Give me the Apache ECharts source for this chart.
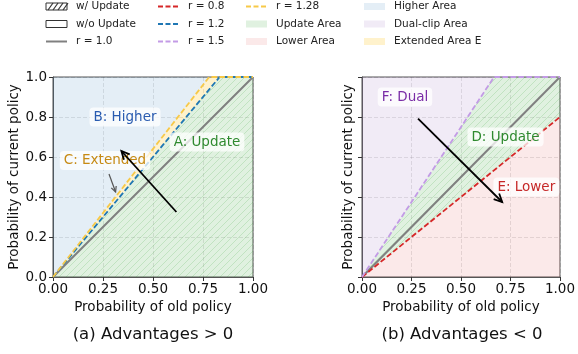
<!doctype html>
<html lang="en">
	<head>
		<meta charset="UTF-8">
		<title>clip regions</title>
		<script src="https://cdn.jsdelivr.net/npm/echarts@6/dist/echarts.min.js"></script>
		<style>
			html, body { margin: 0; padding: 0; background: #fff; }
		</style>
	</head>
	<body>
		<div id="main" style="width: 578px; height: 354px;"></div>
		<script>
			// ratio lines, clipped to the unit square
			const lineR08 = [[0, 0], [1, 0.8]]
			const lineR10 = [[0, 0], [1, 1]]
			const lineR12 = [[0, 0], [0.833, 1], [1, 1]]
			const lineR128 = [[0, 0], [0.781, 1], [1, 1]]
			const lineR15 = [[0, 0], [0.667, 1], [1, 1]]

			// regions, (a) advantages > 0
			const areaUpdateA = [[0, 0], [1, 0], [1, 1], [0.833, 1]]
			const areaExtended = [[0, 0], [0.833, 1], [0.781, 1]]
			const areaHigher = [[0, 0], [0.781, 1], [0, 1]]
			// regions, (b) advantages < 0
			const areaLower = [[0, 0], [1, 0], [1, 0.8]]
			const areaUpdateD = [[0, 0], [1, 0.8], [1, 1], [0.667, 1]]
			const areaDual = [[0, 0], [0.667, 1], [0, 1]]

			// arrows [x0, y0, x1, y1]
			const arrowsA = [[0.617, 0.325, 0.342, 0.63]]
			const smallArrowsA = [[0.28, 0.515, 0.313, 0.425]]
			const arrowsB = [[0.283, 0.792, 0.708, 0.375]]

			// text labels
			const labelsA = [
				{ name: 'B: Higher', value: [0.36, 0.8], color: '#2a5cb0' },
				{ name: 'C: Extended', value: [0.26, 0.583], color: '#c68a14' },
				{ name: 'A: Update', value: [0.77, 0.675], color: '#2f8a2f' }
			]
			const labelsB = [
				{ name: 'F: Dual', value: [0.217, 0.9], color: '#7a2ca6' },
				{ name: 'D: Update', value: [0.725, 0.7], color: '#2f8a2f' },
				{ name: 'E: Lower', value: [0.83, 0.45], color: '#c62828' }
			]

			const xTicks = [0, 0.25, 0.5, 0.75, 1]
			const yTicks = [0, 0.2, 0.4, 0.6, 0.8, 1]

			const FONT = 'DejaVu Sans'
			const C = {
				green: 'rgba(44,160,44,0.15)',
				blue: 'rgba(31,119,180,0.12)',
				red: 'rgba(214,39,40,0.10)',
				purple: 'rgba(148,103,189,0.13)',
				yellow: 'rgba(255,191,0,0.20)'
			}

			// hatch tile "///"
			function hatchCanvas() {
				let cv = document.createElement('canvas')
				cv.width = 7
				cv.height = 7
				let ctx = cv.getContext('2d')
				ctx.strokeStyle = 'rgba(44,160,44,0.17)'
				ctx.lineWidth = 1
				ctx.beginPath()
				ctx.moveTo(-1, 8); ctx.lineTo(8, -1)
				ctx.moveTo(-1, 1); ctx.lineTo(1, -1)
				ctx.moveTo(6, 8); ctx.lineTo(8, 6)
				ctx.stroke()
				return cv
			}
			const hatch = { image: hatchCanvas(), repeat: 'repeat' }

			function area(idx, pts, fill) {
				return {
					type: 'custom',
					xAxisIndex: idx,
					yAxisIndex: idx,
					silent: true,
					z: 1,
					data: pts,
					renderItem: (params, api) => {
						if (params.dataIndex) return null
						return {
							type: 'polygon',
							shape: { points: pts.map(p => api.coord(p)) },
							style: { fill: fill }
						}
					}
				}
			}

			function ratioLine(idx, pts, color, dashed) {
				return {
					type: 'line',
					xAxisIndex: idx,
					yAxisIndex: idx,
					data: pts,
					symbol: 'none',
					silent: true,
					z: 3,
					lineStyle: { color: color, width: dashed ? 1.8 : 2, type: dashed ? [5.5, 2.5] : 'solid' }
				}
			}

			function arrow(idx, arr, color, width, head) {
				return {
					type: 'custom',
					xAxisIndex: idx,
					yAxisIndex: idx,
					silent: true,
					z: 7,
					data: arr,
					renderItem: (params, api) => {
						let a = api.coord([api.value(0), api.value(1)])
						let b = api.coord([api.value(2), api.value(3)])
						let ang = Math.atan2(b[1] - a[1], b[0] - a[0])
						let h1 = [b[0] - head * Math.cos(ang - 0.45), b[1] - head * Math.sin(ang - 0.45)]
						let h2 = [b[0] - head * Math.cos(ang + 0.45), b[1] - head * Math.sin(ang + 0.45)]
						let st = { stroke: color, lineWidth: width, fill: null }
						return {
							type: 'group',
							children: [
								{ type: 'line', shape: { x1: a[0], y1: a[1], x2: b[0], y2: b[1] }, style: st },
								{ type: 'polyline', shape: { points: [h1, b, h2] }, style: st }
							]
						}
					}
				}
			}

			function labels(idx, list) {
				return {
					type: 'custom',
					xAxisIndex: idx,
					yAxisIndex: idx,
					silent: true,
					z: 6,
					data: list.map(d => d.value),
					renderItem: (params, api) => {
						let d = list[params.dataIndex]
						let p = api.coord(d.value)
						return {
							type: 'text',
							x: p[0],
							y: p[1],
							style: {
								text: d.name,
								fill: d.color,
								font: '13.5px "DejaVu Sans"',
								align: 'center',
								verticalAlign: 'middle',
								backgroundColor: 'rgba(255,255,255,0.75)',
								borderRadius: 4,
								padding: [3, 4, 2, 4]
							}
						}
					}
				}
			}

			function xAxis(idx) {
				return {
					type: 'value',
					gridIndex: idx,
					min: 0,
					max: 1,
					interval: 0.25,
					name: 'Probability of old policy',
					nameLocation: 'middle',
					nameGap: 22,
					nameTextStyle: { fontFamily: FONT, fontSize: 13.5, color: '#111' },
					axisLine: { show: true, lineStyle: { color: '#555' } },
					axisTick: { show: true, length: 4, lineStyle: { color: '#333' } },
					axisLabel: {
						fontFamily: FONT, fontSize: 13.5, color: '#111', margin: 5,
						formatter: v => xTicks.includes(v) ? v.toFixed(2) : ''
					},
					splitLine: { show: true, lineStyle: { color: 'rgba(0,0,0,0.13)', type: [4, 2], width: 0.8 } }
				}
			}

			function yAxis(idx, showLabels, gap) {
				return {
					type: 'value',
					gridIndex: idx,
					min: 0,
					max: 1,
					interval: 0.2,
					name: 'Probability of current policy',
					nameLocation: 'middle',
					nameGap: gap,
					nameRotate: 90,
					nameTextStyle: { fontFamily: FONT, fontSize: 13.5, color: '#111' },
					axisLine: { show: true, lineStyle: { color: '#555' } },
					axisTick: { show: true, length: 4, lineStyle: { color: '#333' } },
					axisLabel: {
						show: showLabels,
						fontFamily: FONT, fontSize: 13.5, color: '#111', margin: 6,
						formatter: v => yTicks.some(t => Math.abs(t - v) < 1e-9) ? v.toFixed(1) : ''
					},
					splitLine: { show: true, lineStyle: { color: 'rgba(0,0,0,0.13)', type: [4, 2], width: 0.8 } }
				}
			}

			// legend drawn as graphic: 4 columns x 3 rows
			const legendCols = [
				[
					{ text: 'w/ Update', kind: 'hatch' },
					{ text: 'w/o Update', kind: 'empty' },
					{ text: 'r = 1.0', kind: 'line', color: '#808080' }
				],
				[
					{ text: 'r = 0.8', kind: 'dash', color: '#d62728' },
					{ text: 'r = 1.2', kind: 'dash', color: '#1f77b4' },
					{ text: 'r = 1.5', kind: 'dash', color: '#c39be6' }
				],
				[
					{ text: 'r = 1.28', kind: 'dash', color: '#f7c948' },
					{ text: 'Update Area', kind: 'patch', color: C.green },
					{ text: 'Lower Area', kind: 'patch', color: C.red }
				],
				[
					{ text: 'Higher Area', kind: 'patch', color: C.blue },
					{ text: 'Dual-clip Area', kind: 'patch', color: C.purple },
					{ text: 'Extended Area E', kind: 'patch', color: C.yellow }
				]
			]
			const legendX = [46, 158, 246, 364]
			const legendY = [6.5, 24, 41.5]

			let graphics = []
			legendCols.forEach((col, ci) => {
				col.forEach((it, ri) => {
					let x = legendX[ci]
					let y = legendY[ri]
					if (it.kind === 'hatch') {
						graphics.push({ type: 'rect', shape: { x: x, y: y - 3.5, width: 21, height: 7 },
							style: { fill: '#fff', stroke: '#333', lineWidth: 1 } })
						for (let k = 0; k < 4; k++) {
							graphics.push({ type: 'line', shape: { x1: x + 2 + k * 5, y1: y + 3.5, x2: x + 7 + k * 5, y2: y - 3.5 },
								style: { stroke: '#333', lineWidth: 1.2 } })
						}
					} else if (it.kind === 'empty') {
						graphics.push({ type: 'rect', shape: { x: x, y: y - 3.5, width: 21, height: 7 },
							style: { fill: '#fff', stroke: '#333', lineWidth: 1 } })
					} else if (it.kind === 'line' || it.kind === 'dash') {
						graphics.push({ type: 'line', shape: { x1: x, y1: y, x2: x + 21, y2: y },
							style: { stroke: it.color, lineWidth: 2, lineDash: it.kind === 'dash' ? [5, 2.5] : null } })
					} else {
						graphics.push({ type: 'rect', shape: { x: x, y: y - 3.5, width: 21, height: 7 },
							style: { fill: it.color } })
					}
					graphics.push({ type: 'text', x: x + 30, y: y,
						style: { text: it.text, fontFamily: FONT, fontSize: 10.5, fill: '#222', verticalAlign: 'middle' } })
				})
			})

			graphics.push({ type: 'text', x: 153, y: 335,
				style: { text: '(a) Advantages > 0', fontFamily: FONT, fontSize: 16.5, fill: '#111', align: 'center', verticalAlign: 'middle' } })
			graphics.push({ type: 'text', x: 462, y: 335,
				style: { text: '(b) Advantages < 0', fontFamily: FONT, fontSize: 16.5, fill: '#111', align: 'center', verticalAlign: 'middle' } })

			let mCharts = echarts.init(document.getElementById('main'), null, { renderer: 'canvas' })
			let option = {
				animation: false,
				backgroundColor: '#fff',
				grid: [
					{ left: 53, top: 77, width: 200, height: 200, show: true, borderColor: '#555', borderWidth: 1, backgroundColor: 'transparent' },
					{ left: 362, top: 77, width: 199, height: 200, show: true, borderColor: '#555', borderWidth: 1, backgroundColor: 'transparent' }
				],
				xAxis: [xAxis(0), xAxis(1)],
				yAxis: [yAxis(0, true, 32), yAxis(1, false, 7)],
				graphic: graphics,
				series: [
					area(0, areaUpdateA, C.green),
					area(0, areaUpdateA, hatch),
					area(0, areaExtended, C.yellow),
					area(0, areaHigher, C.blue),
					area(1, areaLower, C.red),
					area(1, areaUpdateD, C.green),
					area(1, areaUpdateD, hatch),
					area(1, areaDual, C.purple),

					ratioLine(0, lineR10, '#808080', false),
					ratioLine(0, lineR12, '#1f77b4', true),
					ratioLine(0, lineR128, '#f7c948', true),
					ratioLine(1, lineR10, '#808080', false),
					ratioLine(1, lineR08, '#d62728', true),
					ratioLine(1, lineR15, '#c39be6', true),

					arrow(0, arrowsA, '#000', 1.8, 9),
					arrow(0, smallArrowsA, '#555', 1.2, 6),
					arrow(1, arrowsB, '#000', 1.8, 9),

					labels(0, labelsA),
					labels(1, labelsB)
				]
			}
			mCharts.setOption(option)
		</script>
	</body>
</html>
